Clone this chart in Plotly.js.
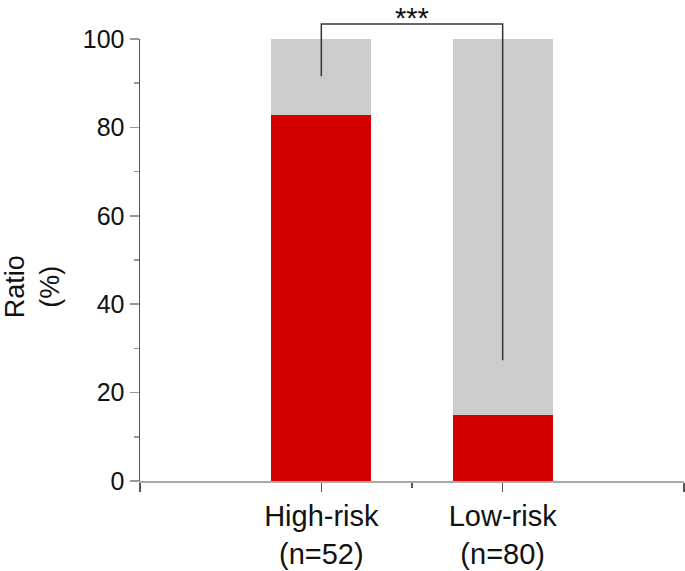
<!DOCTYPE html>
<html>
<head>
<meta charset="utf-8">
<script src="https://cdn.plot.ly/plotly-3.0.1.min.js"></script>
<style>html,body{margin:0;padding:0;background:#fff;}#chart{width:685px;height:571px;}</style>
</head>
<body>
<div id="chart"></div>
<script>
// Data
var categories = ["High-risk<br>(n=52)", "Low-risk<br>(n=80)"];
var positiveRatio = [82.7, 15.0];   // red segment (%)
var negativeRatio = [17.3, 85.0];   // grey segment (%)
var yTickVals = [0, 20, 40, 60, 80, 100];
var significance = "***";
var yTitle = "Ratio<br>(%)";

var xPos = categories.map(function (c, i) { return i; });
var FONT = "Liberation Sans, Arial, sans-serif";

var traces = [
  {
    type: "bar", x: xPos, y: positiveRatio, width: 0.55,
    marker: {color: "#d40000", line: {width: 0}}, hoverinfo: "skip"
  },
  {
    type: "bar", x: xPos, y: negativeRatio, width: 0.55,
    marker: {color: "#cccccc", line: {width: 0}}, hoverinfo: "skip"
  }
];

var yMax = 100;
function py(v) { return v / yMax; }

var layout = {
  width: 685, height: 571,
  margin: {l: 140, r: 1, t: 39, b: 90, pad: 0},
  barmode: "stack",
  showlegend: false,
  paper_bgcolor: "#ffffff",
  plot_bgcolor: "#ffffff",
  font: {family: FONT, color: "#111111", size: 26},
  xaxis: {
    range: [-1, 2],
    tickmode: "array",
    tickvals: [-1].concat(xPos).concat([2]),
    ticktext: [""].concat(categories).concat([""]),
    ticks: "outside", ticklen: 9, tickwidth: 1.5, tickcolor: "#555555",
    minor: {tickmode: "array", tickvals: [0.5], ticks: "outside", ticklen: 5, tickwidth: 1.5, tickcolor: "#555555"},
    showline: true, linecolor: "#aaaaaa", linewidth: 1.5,
    showgrid: false, zeroline: false,
    tickfont: {family: FONT, size: 29, color: "#111111"},
    fixedrange: true
  },
  yaxis: {
    range: [0, yMax],
    tickmode: "array", tickvals: yTickVals,
    ticks: "outside", ticklen: 9, tickwidth: 1.5, tickcolor: "#999999",
    minor: {dtick: 10, tick0: 0, ticks: "outside", ticklen: 5, tickwidth: 1.5, tickcolor: "#999999"},
    showline: true, linecolor: "#555555", linewidth: 1.5,
    showgrid: false, zeroline: false,
    tickfont: {family: FONT, size: 25, color: "#111111"},
    fixedrange: true
  },
  shapes: [
    {
      type: "path", xref: "x", yref: "paper",
      path: "M 0 " + py(91.6) + " L 0 " + py(103.4) + " L 1 " + py(103.4) + " L 1 " + py(27.3),
      line: {color: "#333333", width: 1.5}
    }
  ],
  annotations: [
    {
      text: significance, xref: "x", yref: "paper", x: 0.5, y: py(108.8),
      xanchor: "center", yanchor: "top", showarrow: false,
      font: {family: FONT, size: 29, color: "#111111"}
    },
    {
      text: yTitle, xref: "paper", yref: "paper", x: -0.197, y: 0.44,
      xanchor: "center", yanchor: "middle", showarrow: false, textangle: -90,
      font: {family: FONT, size: 27, color: "#111111"}
    }
  ]
};

Plotly.newPlot("chart", traces, layout, {displayModeBar: false, staticPlot: true});
</script>
</body>
</html>
